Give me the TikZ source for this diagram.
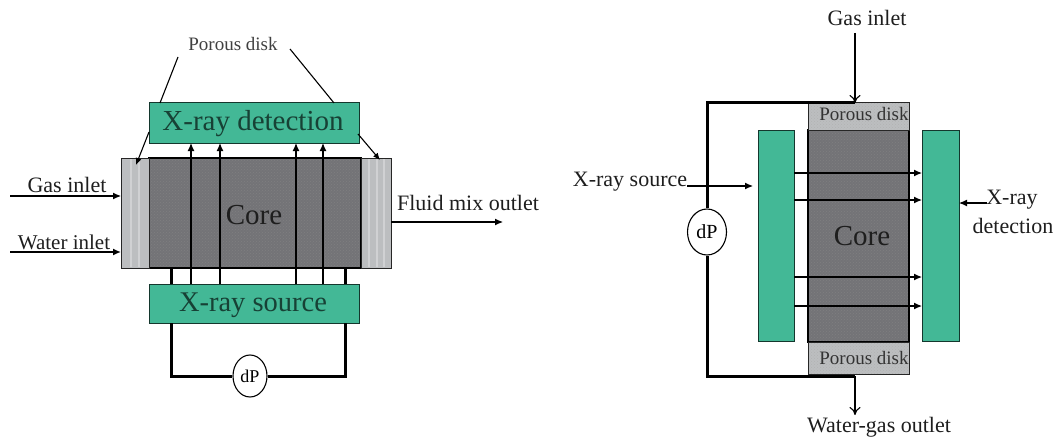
\documentclass[tikz,border=0pt]{standalone}
\usepackage{fontspec}
\setmainfont{Liberation Serif}
\usetikzlibrary{arrows.meta,patterns,shapes.geometric}
\definecolor{tealbox}{HTML}{43B896}
\definecolor{corefill}{HTML}{737377}
\definecolor{diskfill}{HTML}{BCBEC0}
\definecolor{textink}{HTML}{1E1E1E}
\tikzset{
  blk/.style={inner sep=0pt,outer sep=0pt,anchor=north west},
  greenbox/.style={blk,draw=black!70!tealbox,line width=1pt,fill=tealbox},
  corebox/.style={blk,draw=black,line width=1.2pt,preaction={fill=corefill},pattern=crosshatch dots,pattern color=black!50},
  diskbox/.style={blk,draw=black!85,line width=1pt,fill=diskfill},
  diskdot/.style={blk,draw=black!85,line width=1pt,preaction={fill=diskfill},pattern=crosshatch dots,pattern color=black!30},
  lbl/.style={inner sep=0pt,text=textink},
  meter/.style={ellipse,draw=black,line width=1.1pt,fill=white,inner sep=0pt},
  wire/.style={line width=3pt,black},
  ray/.style={line width=1.2pt,-{Latex[length=8pt,width=7pt]}},
  flow/.style={line width=1.1pt,-{Latex[length=8pt,width=7pt]}},
  openflow/.style={line width=1.1pt,-{To[length=8pt,width=11pt]}},
  leader/.style={line width=1.1pt},
  leadarrow/.style={line width=1.1pt,-{Latex[length=7pt,width=6pt]}},
  stripe/.style={white,opacity=.3,line width=1.5pt}
}
\begin{document}
\begin{tikzpicture}[x=1pt,y=-1pt]
\useasboundingbox (0,0) rectangle (1056,441);
% ---------- left figure ----------
\node[corebox,minimum width=212pt,minimum height=110pt] (lcore) at (149,158) {};
\node[diskbox,minimum width=28pt,minimum height=110pt] (ldiskA) at (121,158) {};
\node[diskbox,minimum width=30pt,minimum height=110pt] (ldiskB) at (361,158) {};
\foreach \x in {131,139}{\draw[stripe] (\x,159) -- (\x,267);}
\foreach \x in {369,377,384}{\draw[stripe] (\x,159) -- (\x,267);}
\node[lbl,font=\fontsize{29}{29}\selectfont] at (254,215) {Core};
\node[greenbox,minimum width=210pt,minimum height=40pt] (ldet) at (149,103) {};
\node[greenbox,minimum width=210pt,minimum height=39pt] (lsrc) at (149,284) {};
\node[lbl,font=\fontsize{29}{29}\selectfont,text=black!65!tealbox] at (253,124) {X-ray detection};
\node[lbl,font=\fontsize{28.5}{28.5}\selectfont,text=black!65!tealbox] at (253,305) {X-ray source};
% wires
\coordinate (wa) at (171,0);
\coordinate (wb) at (345,0);
\node[meter,minimum width=34pt,minimum height=42pt,font=\fontsize{18}{18}\selectfont] (ldp) at (250,376) {dP};
\draw[wire] (lcore.south -| wa) -- (lsrc.north -| wa);
\draw[wire] (lcore.south -| wb) -- (lsrc.north -| wb);
\draw[wire] (lsrc.south -| wa) |- (ldp.west);
\draw[wire] (lsrc.south -| wb) |- (ldp.east);
% rays
\foreach \n/\x in {a/191,b/220,c/296,d/323}{
  \coordinate (r\n) at (\x,0);
  \draw[ray] (lsrc.north -| r\n) -- (ldet.south -| r\n);
}
% inlets
\coordinate (gi) at (10,196);
\coordinate (wi) at (10,252);
\coordinate (fo) at (503,222);
\draw[flow] (gi) -- (gi -| ldiskA.west);
\draw[flow,line width=1.5pt] (wi) -- (wi -| ldiskA.west);
\draw[flow] (fo -| ldiskB.east) -- (fo);
\node[lbl,font=\fontsize{22}{22}\selectfont] (tgi) at (67,185) {Gas inlet};
\node[lbl,font=\fontsize{21}{21}\selectfont] (twi) at (64,242) {Water inlet};
\node[lbl,font=\fontsize{22}{22}\selectfont] (tfo) at (468,203) {Fluid mix outlet};
\node[lbl,font=\fontsize{19}{19}\selectfont,text=black!75] (tpd) at (233,44) {Porous disk};
% leaders
\coordinate (la) at (178,57);
\coordinate (lb) at (290,49);
\coordinate (lc) at (160,103);
\coordinate (ld) at (334,103);
\coordinate (le) at (149,132);
\coordinate (lf) at (136,165);
\coordinate (lg) at (358,134);
\coordinate (lh) at (380,160);
\draw[leader] (la) -- (lc);
\draw[leader] (lb) -- (ld);
\draw[leadarrow] (le) -- (lf);
\draw[leadarrow] (lg) -- (lh);
% ---------- right figure ----------
\node[corebox,minimum width=101pt,minimum height=212pt] (rcore) at (808,130) {};
\node[diskdot,minimum width=101pt,minimum height=27pt] (rdiskA) at (808,103) {};
\node[diskdot,minimum width=101pt,minimum height=32pt] (rdiskB) at (808,342) {};
\node[lbl,font=\fontsize{19}{19}\selectfont,text=black!80] at (864,114) {Porous disk};
\node[lbl,font=\fontsize{19}{19}\selectfont,text=black!80] at (864,358) {Porous disk};
\node[lbl,font=\fontsize{29}{29}\selectfont] at (862,236) {Core};
\node[greenbox,minimum width=36pt,minimum height=211pt] (rsrc) at (758,130) {};
\node[greenbox,minimum width=37pt,minimum height=211pt] (rdet) at (922,130) {};
\node[meter,minimum width=39pt,minimum height=46pt,font=\fontsize{20}{20}\selectfont] (rdp) at (707,232) {dP};
\coordinate (tw) at (855,103);
\coordinate (bw) at (855,376);
\draw[wire] (tw) -| (rdp.north);
\draw[wire] (bw) -| (rdp.south);
\foreach \n/\y in {a/173,b/200,c/277,d/306}{
  \coordinate (s\n) at (0,\y);
  \draw[ray] (rsrc.east |- s\n) -- (rdet.west |- s\n);
}
\node[lbl,font=\fontsize{22}{22}\selectfont] (rgt) at (867,18) {Gas inlet};
\node[lbl,font=\fontsize{22}{22}\selectfont] (rwt) at (879,427) {Water-gas outlet};
\node[lbl,font=\fontsize{22}{22}\selectfont] (rxs) at (630,182) {X-ray source};
\node[lbl,font=\fontsize{22}{22}\selectfont] (rx1) at (1012,200) {X-ray};
\node[lbl,font=\fontsize{22}{22}\selectfont] (rx2) at (1013,226) {detection};
\coordinate (gt) at (855,33);
\coordinate (gb) at (855,415);
\coordinate (xs) at (687,186);
\coordinate (xe) at (753,186);
\coordinate (xd) at (987,203);
\draw[openflow] (gt) -- (tw);
\draw[openflow] (bw) -- (gb);
\draw[flow] (xs) -- (xe);
\draw[flow] (xd) -- (rdet.east |- xd);
\end{tikzpicture}
\end{document}
